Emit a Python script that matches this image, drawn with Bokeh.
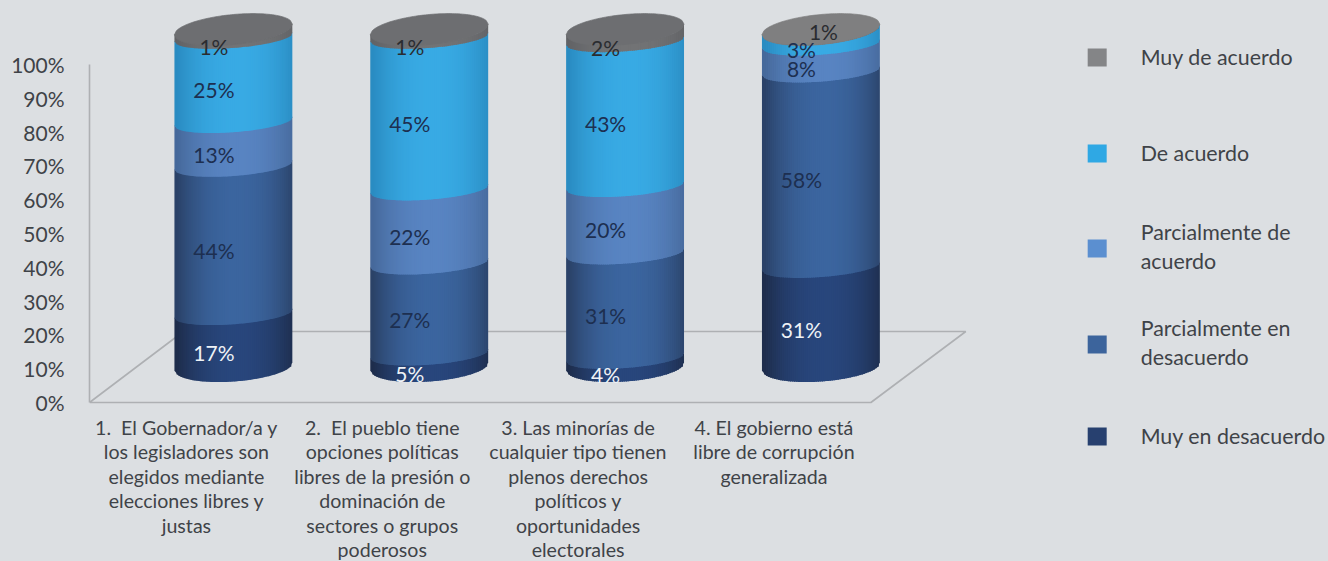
from bokeh.plotting import figure
from bokeh.models import Range1d, FixedTicker, PrintfTickFormatter
from bokeh.core.properties import value
from bokeh.embed import file_html
from bokeh.resources import INLINE

# ---- data (bottom to top of each stack)
categories = [
    "1.\u00a0 El Gobernador/a y\nlos legisladores son\nelegidos mediante\nelecciones libres y\njustas",
    "2.\u00a0 El pueblo tiene\nopciones políticas\nlibres de la presión o\ndominación de\nsectores o grupos\npoderosos",
    "3. Las minorías de\ncualquier tipo tienen\nplenos derechos\npolíticos y\noportunidades\nelectorales",
    "4. El gobierno está\nlibre de corrupción\ngeneralizada",
]
muy_en_desacuerdo = [17, 5, 4, 31]
parc_en_desacuerdo = [44, 27, 31, 58]
parc_de_acuerdo = [13, 22, 20, 8]
de_acuerdo = [25, 45, 43, 3]
muy_de_acuerdo = [1, 1, 2, 1]
y_ticks = [0, 10, 20, 30, 40, 50, 60, 70, 80, 90, 100]

series = [muy_en_desacuerdo, parc_en_desacuerdo, parc_de_acuerdo, de_acuerdo, muy_de_acuerdo]
legend_labels = ["Muy en desacuerdo", "Parcialmente en\ndesacuerdo", "Parcialmente de\nacuerdo",
                 "De acuerdo", "Muy de acuerdo"]

# ---- style
BG = "#dcdfe2"
TXT = "#3f4348"
LINE = "#aeb0b3"
FONT = "Lato"
center_cols = ["#28467c", "#3b659f", "#5884c2", "#38aae4", "#727375"]
edge_cols = ["#1e2d4c", "#2b4268", "#46699b", "#2a8cc2", "#626366"]
legend_cols = ["#27406f", "#3c649c", "#5b8fd0", "#2fa8e4", "#848587"]
label_cols = ["#eef2f6", "#1d2f50", "#1d2f50", "#1d2f50", "#2a2c30"]

PX = 3.38          # px per percent on the axis
P0 = 402           # page y of 0%
LEFT, W, H = 88, 1320, 553


def yd(py):
    return (P0 - py) / PX


p = figure(width=W, height=H, output_backend="svg", toolbar_location=None,
           x_range=Range1d(LEFT, 1328), y_range=Range1d(yd(561), yd(8)),
           x_axis_location=None, min_border_left=79, min_border_right=0,
           min_border_top=0, min_border_bottom=0,
           background_fill_color=BG, border_fill_color=BG, outline_line_color=None)
p.grid.visible = False

ax = p.yaxis[0]
ax.bounds = (0, 100)
ax.ticker = FixedTicker(ticks=y_ticks)
ax.formatter = PrintfTickFormatter(format="%d%%")
ax.major_tick_line_color = None
ax.minor_tick_line_color = None
ax.major_tick_out = 0
ax.major_tick_in = 0
ax.minor_tick_out = 0
ax.minor_tick_in = 0
ax.major_label_standoff = 25
ax.major_label_text_font = FONT
ax.major_label_text_font_size = "21px"
ax.major_label_text_color = TXT
ax.axis_line_color = LINE
ax.axis_line_width = 1.6

# 3D floor
p.line([88, 870, 965, 182, 88], [yd(402), yd(402), yd(331), yd(331), yd(402)],
       line_color=LINE, line_width=1.6)

# cylinders
A = 59
CX0, DX = 232, 196
FRONT0, KV = 381, 3.37
N = 59


def hexrgb(c):
    return [int(c[i:i + 2], 16) for i in (1, 3, 5)]


def lerp(c1, c2, t):
    a, b = hexrgb(c1), hexrgb(c2)
    return "#%02x%02x%02x" % tuple(int(round(a[i] + (b[i] - a[i]) * t)) for i in range(3))


def arc(v, u):
    """page y of the front rim of boundary v at horizontal position u (-1..1)"""
    front = FRONT0 - KV * v
    if v <= 0:
        b, s = 15, 0.07
    elif v >= 100:
        b, s = 15, 0.09
    else:
        b, s = 10.5, 0.075
    return front - b + b * max(0.0, 1 - u * u) ** 0.5 - s * A * u


xs, ys, cols = [], [], []
lx, ly, lt, lc = [], [], [], []
for i in range(len(categories)):
    cx = CX0 + i * DX
    base = 0
    for k, s in enumerate(series):
        v = s[i]
        top = min(base + v, 100)
        for j in range(N):
            u0 = -1 + 2 * j / N
            u1 = -1 + 2 * (j + 1) / N
            um = (u0 + u1) / 2
            t = 1 - abs(um - 0.05) ** 2.2
            t = max(0, min(1, t))
            over = 1.0 if j < N - 1 else 0.0   # strips overlap so that no seam shows
            xs.append([cx + A * u0, cx + A * u1 + over, cx + A * u1 + over, cx + A * u0])
            ys.append([yd(arc(base, u0)), yd(arc(base, u1)),
                       yd(arc(top, u1) - 0.7), yd(arc(top, u0) - 0.7)])
            cols.append(lerp(edge_cols[k], center_cols[k], t))
        mid = base + v / 2
        lx.append(cx - 19.5)
        ly.append(yd(FRONT0 - KV * mid))
        lt.append(f"{v}%")
        lc.append(label_cols[k])
        base += v
# the 1% of the 4th column was moved up, clear of the 3%
lx[-1] += 22
ly[-1] = yd(31)

p.patches(xs, ys, fill_color=cols, line_color=None)

# top cap
cap_u = [-1 + 2 * j / 60 for j in range(61)]
for i in range(len(categories)):
    cx = CX0 + i * DX
    cap_col = "#6d6e71" if i < 3 else "#7f7f80"
    cx_pts, cy_pts = [], []
    for u in cap_u:
        cx_pts.append(cx + A * u)
        cy_pts.append(yd(arc(100, u)))
    for u in reversed(cap_u):
        cx_pts.append(cx + A * u)
        cy_pts.append(yd(arc(100, u) - 30 * max(0.0, 1 - u * u) ** 0.5))
    p.patch(cx_pts, cy_pts, fill_color=cap_col, line_color=cap_col, line_width=0.7)

p.text(lx, ly, text=lt, text_color=lc, text_font=value(FONT), text_font_size="21px",
       text_align="center", text_baseline="middle")

# category labels
p.text([CX0 - 47 + i * DX for i in range(len(categories))], [yd(415.5)] * len(categories),
       text=categories, text_font=value(FONT), text_font_size="19.6px", text_color=TXT,
       text_align="center", text_baseline="top", text_line_height=1.06)

# legend
legend_y = [436, 344, 248, 153, 57]
p.rect([1096.5] * 5, [yd(y) for y in legend_y], width=19, height=18, width_units="screen",
       height_units="screen", fill_color=legend_cols, line_color=None)
p.text([1140] * 5, [yd(y) for y in [435, 342, 246, 152, 56]],
       text=legend_labels, text_font=value(FONT), text_font_size="21.4px", text_color=TXT,
       text_align="left", text_baseline="middle", text_line_height=1.1)

html = file_html(p, INLINE)
html = html.replace("</head>", f"<style>html,body{{background:{BG} !important;margin:0 !important;overflow:hidden !important}}body{{padding:8px 0 0 8px !important;box-sizing:border-box}}</style></head>", 1)
open("out.html", "w").write(html)
